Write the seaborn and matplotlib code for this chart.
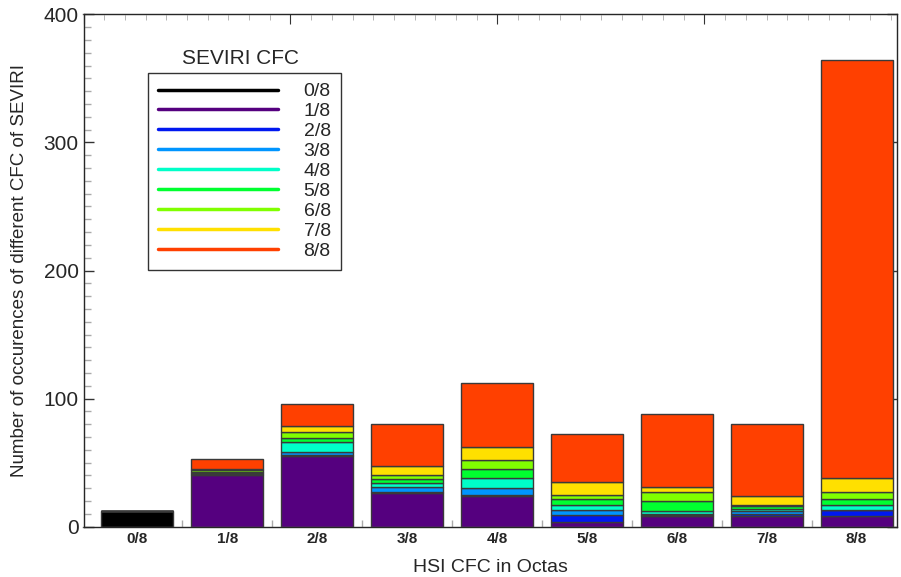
import matplotlib
matplotlib.use("Agg")
import matplotlib.pyplot as plt
from matplotlib.lines import Line2D
import pandas as pd
import seaborn as sns
import numpy as np

# HSI CFC classes (x axis) and SEVIRI CFC classes (stack / legend)
octas = ['0/8', '1/8', '2/8', '3/8', '4/8', '5/8', '6/8', '7/8', '8/8']

# counts of each SEVIRI class inside every HSI bar
seviri_0 = [12, 0, 0, 0, 0, 0, 0, 0, 0]
seviri_1 = [0, 40, 55, 26, 24, 4, 8, 8, 8]
seviri_2 = [0, 1, 1, 1, 1, 5, 1, 2, 5]
seviri_3 = [0, 0, 2, 4, 5, 4, 1, 2, 0]
seviri_4 = [0, 1, 8, 3, 8, 4, 2, 2, 4]
seviri_5 = [0, 1, 3, 3, 7, 5, 8, 2, 5]
seviri_6 = [0, 1, 5, 3, 7, 3, 7, 1, 5]
seviri_7 = [0, 1, 5, 7, 10, 10, 4, 7, 11]
seviri_8 = [0, 8, 17, 33, 50, 37, 57, 56, 326]

colores = ['#000000', '#55007f', '#0018f0', '#0095ff', '#00ffc8',
           '#00ff30', '#80ff00', '#ffe000', '#ff4000']

series = [seviri_0, seviri_1, seviri_2, seviri_3, seviri_4,
          seviri_5, seviri_6, seviri_7, seviri_8]

filas = []
for nivel, valores in zip(octas, series):
    for i, v in enumerate(valores):
        filas.append({'hsi': i, 'seviri': nivel, 'count': v})
df = pd.DataFrame(filas)

sns.set_style("white")
plt.rcParams['font.family'] = ['Liberation Sans', 'DejaVu Sans']

fig = plt.figure(figsize=(9.01, 5.77), dpi=100)
ax = fig.add_axes([83.5 / 901, 50.3 / 577, 813.5 / 901, 512.4 / 577])

paleta = dict(zip(octas, colores))
# seaborn puts the first hue level on top of the stack, so reverse it
sns.histplot(data=df, x='hsi', hue='seviri', weights='count',
             hue_order=octas[::-1], palette=paleta, multiple='stack',
             discrete=True, shrink=0.8, alpha=1, edgecolor='#3a3a3a',
             linewidth=1, legend=False, ax=ax)

ax.set_xlim(-0.6, 8.45)
ax.set_ylim(0, 400)
ax.set_xticks(range(9))
ax.set_xticklabels(octas, fontsize=11, fontweight='bold')
ax.set_xticks(np.arange(0.5, 8, 1), minor=True)
ax.set_yticks([0, 100, 200, 300, 400])
ax.set_yticks(np.arange(0, 401, 10), minor=True)
ax.tick_params(axis='y', labelsize=15)
ax.tick_params(which='major', direction='in', length=7, width=1,
               color='#333333', left=True, bottom=True, right=True)
ax.tick_params(which='minor', direction='in', length=5, width=1,
               color='#aaaaaa', left=True, bottom=True)
ax.tick_params(axis='x', which='major', pad=4)
for s in ax.spines.values():
    s.set_color('#555555')
    s.set_linewidth(1)

# top axis has its own tick spacing in the original
arriba = ax.twiny()
arriba.set_xlim(0, 39.3)
arriba.set_xticks([0, 10, 20, 30])
arriba.set_xticks(np.arange(0, 40, 1), minor=True)
arriba.tick_params(which='major', direction='in', length=7, color='#333333',
                   labeltop=False, top=True)
arriba.tick_params(which='minor', direction='in', length=4, color='#aaaaaa',
                   top=True)
arriba.grid(False)

ax.set_xlabel('HSI CFC in Octas', fontsize=14, labelpad=9)
ax.set_ylabel('Number of occurences of different CFC of SEVIRI', fontsize=13.5,
              labelpad=11)

manijas = [Line2D([0], [0], color=c, lw=2.5) for c in colores]
ley = ax.legend(manijas, octas, loc='upper left',
                bbox_to_anchor=(148 / 901, 1 - 73 / 577),
                bbox_transform=fig.transFigure, borderaxespad=0,
                fontsize=14, handlelength=6.2, handletextpad=1.3,
                labelspacing=0.12, borderpad=0.5, fancybox=False,
                framealpha=1, edgecolor='#333333')
ley.get_frame().set_linewidth(1)
fig.text(240 / 901, 1 - 58 / 577, 'SEVIRI CFC', fontsize=15,
         ha='center', va='center')

fig.savefig('out.png', dpi=100)
